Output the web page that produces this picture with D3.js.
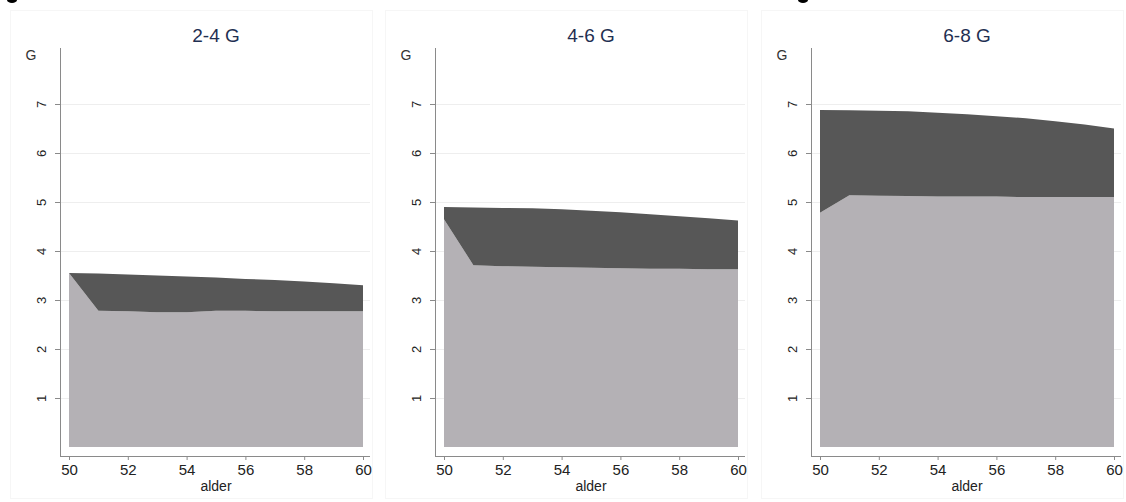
<!DOCTYPE html>
<html><head><meta charset="utf-8">
<script src="https://cdn.jsdelivr.net/npm/d3@7"></script>
<style>body{margin:0;background:#fff;font-family:Arial,"Liberation Sans",sans-serif}</style>
</head><body><svg id="c" width="1126" height="502"></svg>
<script>
const ages = [50,51,52,53,54,55,56,57,58,59,60];
const panelTitles = ["2-4 G","4-6 G","6-8 G"];
const xTicks = [50,52,54,56,58,60];
const yTicks = [1,2,3,4,5,6,7];
const lower24 = [3.55,2.78,2.77,2.75,2.75,2.78,2.78,2.77,2.77,2.77,2.77];
const upper24 = [3.55,3.54,3.52,3.50,3.48,3.46,3.43,3.41,3.38,3.34,3.30];
const lower46 = [4.65,3.71,3.69,3.68,3.67,3.66,3.65,3.64,3.64,3.63,3.63];
const upper46 = [4.90,4.89,4.88,4.87,4.85,4.82,4.79,4.75,4.71,4.67,4.62];
const lower68 = [4.78,5.14,5.13,5.12,5.11,5.11,5.11,5.10,5.10,5.10,5.10];
const upper68 = [6.88,6.87,6.86,6.85,6.82,6.79,6.75,6.71,6.65,6.58,6.50];

const lowers=[lower24,lower46,lower68], uppers=[upper24,upper46,upper68];
const offsets=[0,375,751];
const svg=d3.select("#c");
svg.append("ellipse").attr("cx",12).attr("cy",0).attr("rx",5).attr("ry",3).attr("fill","#000");
svg.append("ellipse").attr("cx",803).attr("cy",0).attr("rx",5).attr("ry",3).attr("fill","#000");

panelTitles.forEach((t,i)=>{
  const ox=offsets[i];
  const g=svg.append("g").attr("transform",`translate(${ox},0)`);
  g.append("rect").attr("x",10.5).attr("y",10.5).attr("width",362).attr("height",488).attr("fill","none").attr("stroke","#f6f6f6");
  const x=d3.scaleLinear().domain([50,60]).range([69,363]);
  const y=d3.scaleLinear().domain([0,7]).range([447,104]);
  g.selectAll(".gl").data(yTicks).enter().append("line")
   .attr("x1",60).attr("x2",370).attr("y1",d=>y(d)+0.5).attr("y2",d=>y(d)+0.5)
   .attr("stroke","#eeeeee").attr("stroke-width",1);
  const lo=lowers[i], up=uppers[i];
  const aLow=d3.area().x((d,j)=>x(ages[j])).y0(y(0)).y1(d=>y(d));
  const aUp=d3.area().x((d,j)=>x(ages[j])).y0((d,j)=>y(lo[j])).y1(d=>y(d));
  g.append("path").attr("d",aLow(lo)).attr("fill","#b4b1b5");
  g.append("path").attr("d",aUp(up)).attr("fill","#575757");
  const xa=g.append("g").attr("transform","translate(0,456)")
    .call(d3.axisBottom(x).tickValues(xTicks).tickSize(4).tickPadding(4).tickFormat(d3.format("d")));
  xa.attr("font-size",15).attr("font-family","Arial,'Liberation Sans',sans-serif");
  xa.select(".domain").attr("d",`M60,0.5H370`).attr("stroke","#8a8a8a");
  xa.selectAll(".tick line").attr("stroke","#8a8a8a");
  xa.selectAll(".tick text").attr("fill","#222");
  const ya=g.append("g").attr("transform","translate(60,0)")
    .call(d3.axisLeft(y).tickValues(yTicks).tickSize(5).tickPadding(5).tickFormat(d3.format("d")));
  ya.attr("font-size",13).attr("font-family","Arial,'Liberation Sans',sans-serif");
  ya.select(".domain").attr("d","M0.5,48V456").attr("stroke","#8a8a8a");
  ya.selectAll(".tick line").attr("stroke","#8a8a8a");
  ya.selectAll(".tick text").attr("fill","#222")
    .attr("text-anchor","middle").attr("dy",null).attr("x",null)
    .attr("transform","translate(-17,0) rotate(-90)").attr("dominant-baseline","middle");
  g.append("text").attr("x",216).attr("y",42).attr("text-anchor","middle").attr("font-size",19).attr("fill","#1f2f52").text(t);
  g.append("text").attr("x",31).attr("y",60).attr("text-anchor","middle").attr("font-size",14).attr("fill","#333").text("G");
  g.append("text").attr("x",216).attr("y",491).attr("text-anchor","middle").attr("font-size",14).attr("fill","#222").text("alder");
});
</script></body></html>
